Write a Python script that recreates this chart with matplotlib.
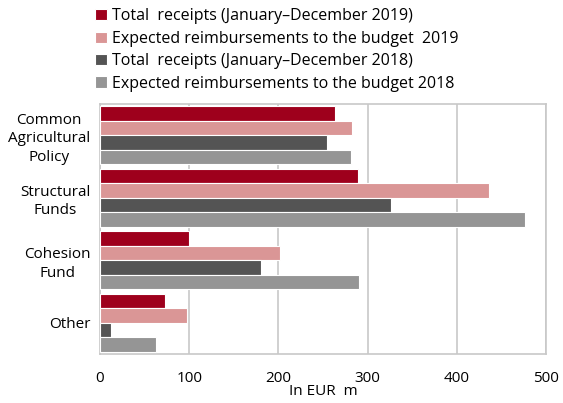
import numpy as np
import matplotlib.pyplot as plt

plt.rcParams['font.family'] = ['Open Sans', 'DejaVu Sans']

categories = ["Common\nAgricultural\nPolicy", "Structural\nFunds", "Cohesion\nFund", "Other"]
receipts_2019 = [263, 289, 100, 73]
expected_2019 = [283, 436, 202, 97]
receipts_2018 = [254, 326, 181, 12]
expected_2018 = [281, 477, 290, 63]
series_names = ["Total  receipts (January\u2013December 2019)",
                "Expected reimbursements to the budget  2019",
                "Total  receipts (January\u2013December 2018)",
                "Expected reimbursements to the budget 2018"]
colors = ["#9E001C", "#DA9696", "#545454", "#959595"]

fig = plt.figure(figsize=(5.63, 4.03), dpi=100)
ax = fig.add_axes([0.1776, 0.1216, 0.7922, 0.6204])

y = np.arange(len(categories))
pitch = 0.232
series = [receipts_2019, expected_2019, receipts_2018, expected_2018]
for i, (vals, name, c) in enumerate(zip(series, series_names, colors)):
    ax.barh(y + (i - 1.5) * pitch, vals, height=pitch, color=c,
            edgecolor="white", linewidth=0.8, label=name, zorder=3)

ax.set_ylim(len(categories) - 0.5, -0.5)
ax.set_xlim(0, 500)
ax.set_xticks([0, 100, 200, 300, 400, 500])
ax.set_yticks(y)
ax.set_yticklabels(categories, multialignment="center", fontsize=11, linespacing=1.3)
ax.tick_params(axis="x", length=0, pad=12, labelsize=11)
ax.tick_params(axis="y", length=0, pad=7)
ax.xaxis.grid(True, color="#C8C8C8", linewidth=1.2, zorder=0)
for s in ax.spines.values():
    s.set_color("#C8C8C8")
    s.set_linewidth(1.2)
ax.set_xlabel("In EUR  m", fontsize=11, labelpad=-1)

fig.legend(loc="upper left", bbox_to_anchor=(0.158, 0.995), frameon=False,
           fontsize=11.5, handlelength=0.7, handleheight=0.7,
           handletextpad=0.35, labelspacing=0.4, borderaxespad=0)

fig.savefig("out.png", dpi=100)
